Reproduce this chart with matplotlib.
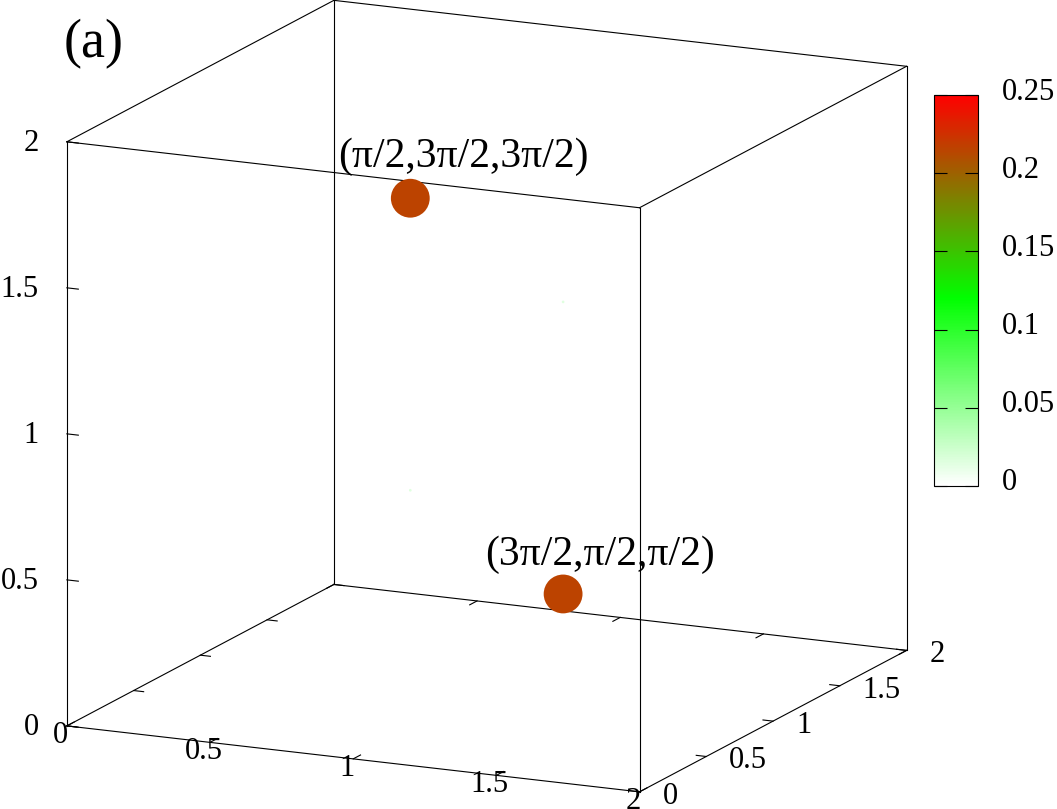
import matplotlib
matplotlib.use('Agg')
import matplotlib.pyplot as plt
import numpy as np
from itertools import product
from matplotlib.colors import LinearSegmentedColormap, Normalize
from matplotlib.cm import ScalarMappable
from matplotlib.transforms import offset_copy, blended_transform_factory
from mpl_toolkits.mplot3d import proj3d

plt.rcParams['font.family'] = ['Liberation Serif', 'DejaVu Serif']

# data: point positions in units of pi, and their values
px = [0.5, 1.5, 1.5, 0.5]
py = [1.5, 0.5, 0.5, 1.5]
pz = [1.5, 0.5, 1.5, 0.5]
pval = [0.215, 0.215, 0.015, 0.015]
point_labels = ['(π/2,3π/2,3π/2)', '(3π/2,π/2,π/2)']

axis_ticks = [0, 0.5, 1, 1.5, 2]
cb_ticks = [0, 0.05, 0.1, 0.15, 0.2, 0.25]
cb_nodes = [0, 0.12, 0.25]
cb_colors = ['white', '#00ff00', 'red']
panel = '(a)'

# layout (pixels)
W, H = 1057, 809
box_l, box_r, box_t, box_b = 66.7, 906.7, 0.5, 791.7   # where the cube should land
label_off = [(53.5, 31), (36.5, 29)]
fs_tick = 22
fs_lab = 30
lw = 0.8

fig = plt.figure(figsize=(W / 100, H / 100), dpi=100)
ax = fig.add_axes([0.1, 0.1, 0.8 * H / W, 0.8], projection='3d',
                  proj_type='ortho', computed_zorder=False)
ax.view_init(elev=14.3, azim=-65)
ax.set_box_aspect((1, 1, 0.954))
lo, hi = axis_ticks[0], axis_ticks[-1]
ax.set_xlim(lo, hi)
ax.set_ylim(lo, hi)
ax.set_zlim(lo, hi)
ax.set_axis_off()
ax.set_facecolor('none')

cmap = LinearSegmentedColormap.from_list(
    'wgr', list(zip(np.array(cb_nodes) / cb_nodes[-1], cb_colors)))
norm = Normalize(cb_ticks[0], cb_ticks[-1])

# box edges
cube = list(product([lo, hi], repeat=3))
for a in cube:
    for b in cube:
        if a < b and sum(i != j for i, j in zip(a, b)) == 1:
            ax.plot(*zip(a, b), color='black', lw=lw, zorder=1)

# ticks
for t in axis_ticks:
    ax.plot([t, t], [lo, lo + 0.055], [lo, lo], color='black', lw=lw, zorder=1)
    ax.plot([t, t], [hi, hi - 0.055], [lo, lo], color='black', lw=lw, zorder=1)
    ax.plot([hi, hi - 0.035], [t, t], [lo, lo], color='black', lw=lw, zorder=1)
    ax.plot([lo, lo + 0.035], [t, t], [lo, lo], color='black', lw=lw, zorder=1)
    ax.plot([lo, lo + 0.04], [lo, lo], [t, t], color='black', lw=lw, zorder=1)


def off(dx, dy):
    return offset_copy(ax.transData, fig=fig, x=dx, y=dy, units='dots')


for t in axis_ticks:
    s = f'{t:g}'
    ax.text(t, lo, lo, s, transform=off(-6.5, -17), ha='center', va='baseline',
            fontsize=fs_tick)
    ax.text(hi, t, lo, s, transform=off(23, -12), ha='left', va='baseline',
            fontsize=fs_tick)
    ax.text(lo, lo, t, s, transform=off(-28, -9), ha='right', va='baseline',
            fontsize=fs_tick)

# points, diameter proportional to value
sizes = [(130 * v) ** 2 for v in pval]
ax.scatter(px, py, pz, c=pval, cmap=cmap, norm=norm, s=sizes,
           depthshade=False, edgecolors='none', zorder=3)

for i, lab in enumerate(point_labels):
    ax.text(px[i], py[i], pz[i], lab, transform=off(*label_off[i]),
            ha='center', va='baseline', fontsize=fs_lab, zorder=4)

# fit the projected cube into the target pixel box
fig.canvas.draw()
cc = np.array(cube, dtype=float)
xs, ys, _ = proj3d.proj_transform(cc[:, 0], cc[:, 1], cc[:, 2], ax.M)
d = ax.transData.transform(np.column_stack([xs, ys]))
bb = ax.bbox
c0 = np.array([(bb.x0 + bb.x1) / 2, (bb.y0 + bb.y1) / 2])
q = (d - c0) / bb.width
L = 0.5 * ((box_r - box_l) / np.ptp(q[:, 0]) + (box_b - box_t) / np.ptp(q[:, 1]))
tc = np.array([(box_l + box_r) / 2, H - (box_t + box_b) / 2])
qc = np.array([(q[:, 0].min() + q[:, 0].max()) / 2, (q[:, 1].min() + q[:, 1].max()) / 2])
C = tc - L * qc
ax.set_position([(C[0] - L / 2) / W, (C[1] - L / 2) / H, L / W, L / H])

# colorbar
cax = fig.add_axes([934.3 / W, 1 - 486 / H, 44 / W, 391 / H])
cb = fig.colorbar(ScalarMappable(norm=norm, cmap=cmap), cax=cax, ticks=cb_ticks)
cb.outline.set_linewidth(lw)
cax.tick_params(axis='y', direction='in', left=True, right=True, length=9.4,
                width=lw, labelleft=False, labelright=False)
trans = blended_transform_factory(cax.transAxes, cax.transData)
for t in cb_ticks:
    cax.text(1, t, f'{t:g}', transform=offset_copy(trans, fig=fig, x=24, y=-4.5, units='dots'),
             ha='left', va='baseline', fontsize=fs_tick, clip_on=False)

fig.text(64 / W, 1 - 57 / H, panel, fontsize=39, ha='left', va='baseline')

fig.savefig('out.png', dpi=100)
